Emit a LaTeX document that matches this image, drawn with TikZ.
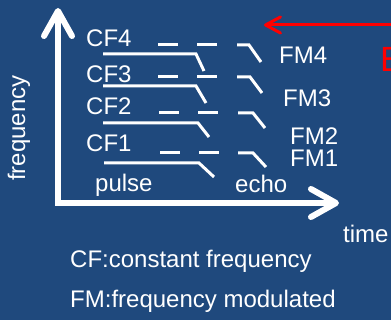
\documentclass[tikz,border=0pt]{standalone}
\usepackage{fontspec}
\setmainfont{Liberation Sans}
\usetikzlibrary{arrows.meta}
\definecolor{slideblue}{RGB}{31,73,125}

\begin{document}
\begin{tikzpicture}[
    x=1pt, y=-1pt,
    lbl/.style={anchor=base west, inner sep=0pt, text=white,
                font=\fontsize{24}{28}\selectfont},
    axis/.style={white, line width=6pt, line cap=round,
                 {Straight Barb[length=25pt,width=28pt,round]}-{Straight Barb[length=25pt,width=28pt,round]}},
    sig/.style={white, line width=3pt},
    redarr/.style={red, line width=3pt, -{Straight Barb[length=15pt,width=16pt,round]}},
]
\clip (0,0) rectangle (391,320);
\fill[slideblue] (0,0) rectangle (391,320);

% axes
\coordinate (ftop) at (58,8);
\coordinate (orig) at (58,203);
\coordinate (tend) at (339,203);
\draw[axis] (ftop) -- (orig) -- (tend);

\node[lbl, anchor=center, rotate=90] (freq) at (19,128) {frequency};
\node[lbl] (time)  at (343,243) {time};
\node[lbl] (pulse) at (95,192)  {pulse};
\node[lbl] (echo)  at (235,193) {echo};

% CF / FM labels
\node[lbl] (cf4) at (86,47)  {CF4};
\node[lbl] (cf3) at (86,83)  {CF3};
\node[lbl] (cf2) at (86,115) {CF2};
\node[lbl] (cf1) at (86,152) {CF1};
\node[lbl] (fm4) at (279,64)  {FM4};
\node[lbl] (fm3) at (283,107) {FM3};
\node[lbl] (fm2) at (290,145) {FM2};
\node[lbl] (fm1) at (290,167) {FM1};

% pulses
\draw[sig] (103,54)  -- (196,54)  -- (204,71);
\draw[sig] (103,86)  -- (196,86)  -- (206,103);
\draw[sig] (103,123) -- (198,123) -- (209,137);
\draw[sig] (104,163) -- (199,163) -- (214,177);

% dashes
\draw[sig] (158,45)  -- (178,45)  (197,45)  -- (217,45);
\draw[sig] (158,77)  -- (178,77)  (197,77)  -- (217,77);
\draw[sig] (159,113) -- (179,113) (198,113) -- (218,113);
\draw[sig] (160,153) -- (180,153) (199,153) -- (219,153);

% echoes
\draw[sig] (237,45)  -- (249,45)  -- (261,62);
\draw[sig] (237,77)  -- (250,77)  -- (262,93);
\draw[sig] (238,113) -- (253,113) -- (265,128);
\draw[sig] (238,153) -- (253,153) -- (266,167);

% red arrow
\coordinate (rfrom) at (396,25);
\coordinate (rto)   at (264,25);
\draw[redarr] (rfrom) -- (rto);
\node[lbl, text=red, font=\fontsize{35}{40}\selectfont] (ehint) at (380,72) {E};

\node[lbl] (cfnote) at (70,268) {CF:constant frequency};
\node[lbl] (fmnote) at (70,308) {FM:frequency modulated};
\end{tikzpicture}
\end{document}
